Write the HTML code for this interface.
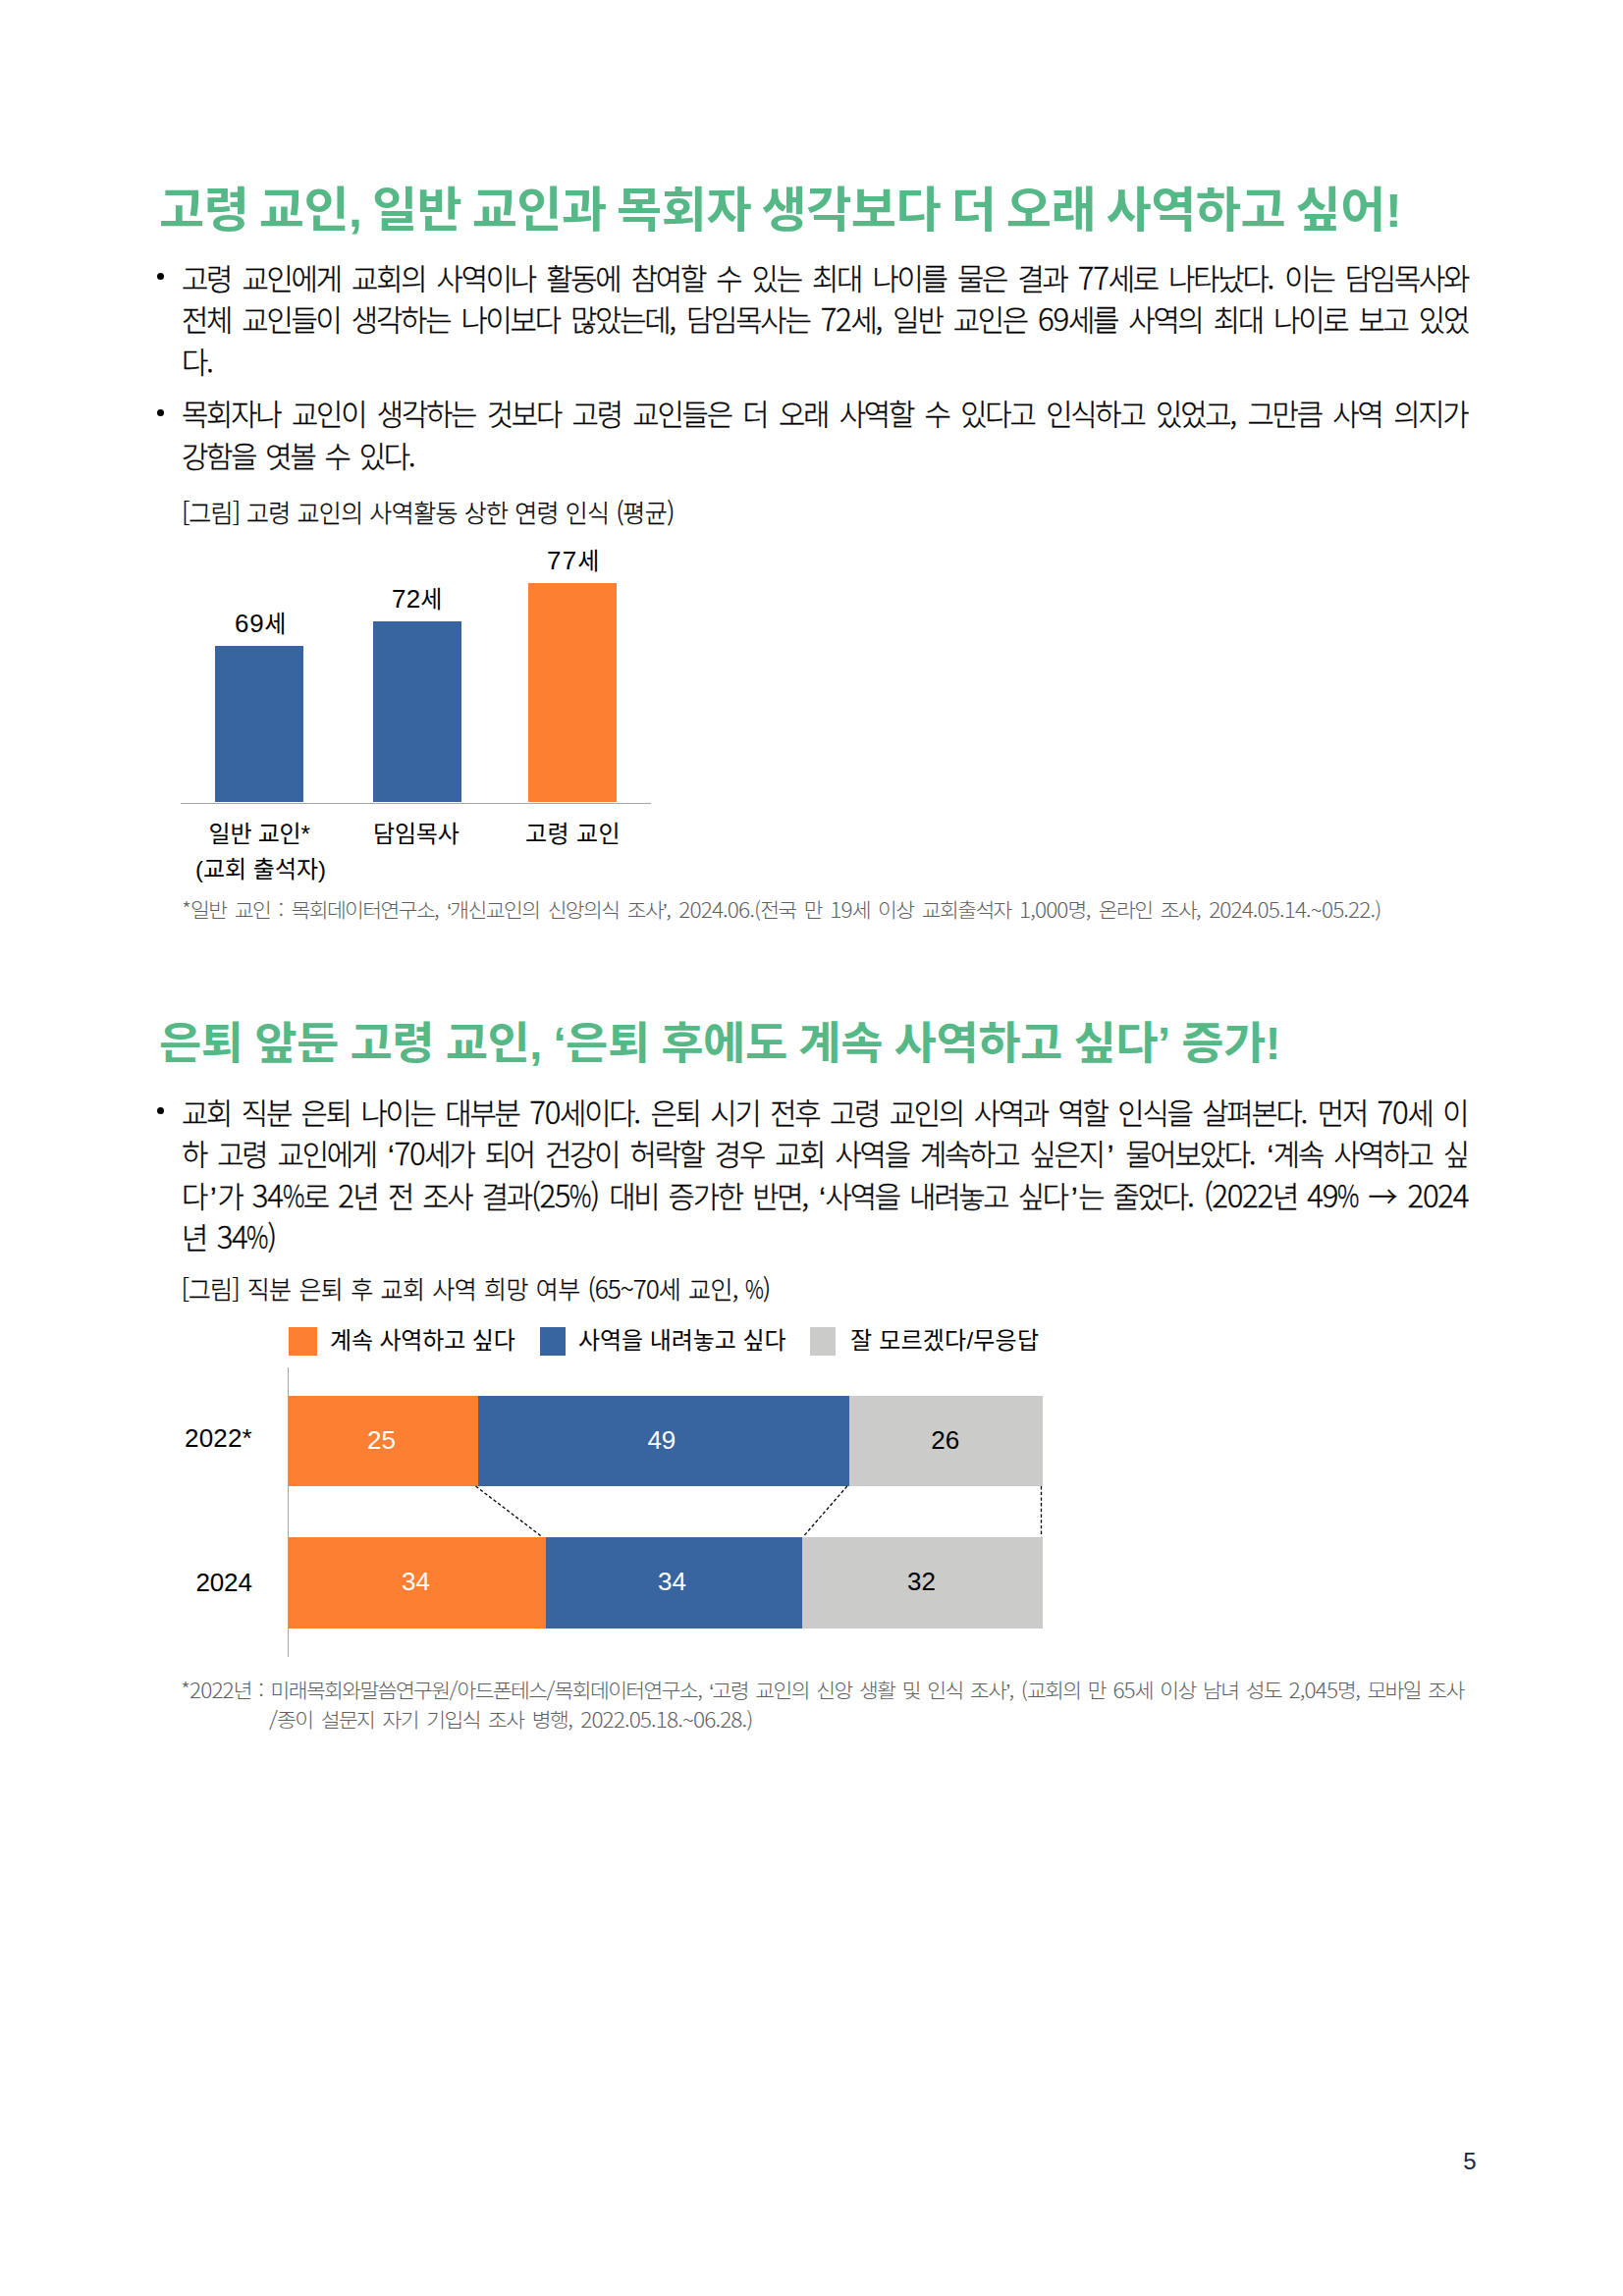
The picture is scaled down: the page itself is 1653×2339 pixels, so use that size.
<!DOCTYPE html><html lang="ko"><head><meta charset="utf-8"><title>고령 교인 사역 인식</title><style>
html,body{margin:0;padding:0;background:#fff}
#page{position:relative;width:1653px;height:2339px;overflow:hidden;background:#fff;font-family:"Liberation Sans","Noto Sans CJK KR",sans-serif}
.t{position:absolute;transform-origin:0 0;white-space:pre;line-height:1;margin:0;padding:0;font-kerning:none}
.r{position:absolute}
.n{font-family:"Noto Sans CJK KR",sans-serif;font-size:1.05em;letter-spacing:-.04em;line-height:0}
.m{font-size:1.08em;line-height:0}
.pc{display:inline-block;transform:scaleX(.8);transform-origin:0 50%;margin-right:-.18em;line-height:0}
.ar{font-family:"Noto Sans CJK KR",sans-serif;line-height:0;letter-spacing:0}
.q1{margin:0 2px 0 1px;line-height:0}.q2{margin:0 3px 0 4px;line-height:0}
.dot{position:absolute;width:7px;height:7px;border-radius:50%;background:#000}
svg{position:absolute;left:0;top:0}
</style></head><body><div id="page">
<div class="dot" style="left:160px;top:278.25px"></div>
<div class="dot" style="left:160px;top:417.00px"></div>
<div class="dot" style="left:160px;top:1128.25px"></div>
<div class="r" style="left:219.00px;top:658.00px;width:90.00px;height:158.75px;background:#3864a0"></div>
<div class="r" style="left:380.00px;top:633.00px;width:90.00px;height:183.75px;background:#3864a0"></div>
<div class="r" style="left:537.50px;top:594.00px;width:90.50px;height:222.75px;background:#fd7f32"></div>
<div class="r" style="left:184.00px;top:818.00px;width:478.60px;height:1.00px;background:#a6a6a6"></div>
<div class="r" style="left:293.75px;top:1352.00px;width:29.00px;height:28.75px;background:#fd7f32"></div>
<div class="r" style="left:550.00px;top:1352.00px;width:26.00px;height:28.75px;background:#3864a0"></div>
<div class="r" style="left:825.00px;top:1352.00px;width:26.00px;height:28.75px;background:#cbcbc9"></div>
<div class="r" style="left:293.00px;top:1393.00px;width:1.00px;height:294.50px;background:#a6a6a6"></div>
<div class="r" style="left:294.00px;top:1422.00px;width:192.75px;height:91.75px;background:#fd7f32"></div>
<div class="r" style="left:486.75px;top:1422.00px;width:377.75px;height:91.75px;background:#3864a0"></div>
<div class="r" style="left:864.50px;top:1422.00px;width:197.20px;height:91.75px;background:#cbcbc9"></div>
<div class="r" style="left:294.00px;top:1565.75px;width:261.75px;height:93.00px;background:#fd7f32"></div>
<div class="r" style="left:555.75px;top:1565.75px;width:261.35px;height:93.00px;background:#3864a0"></div>
<div class="r" style="left:817.10px;top:1565.75px;width:244.60px;height:93.00px;background:#cbcbc9"></div>
<svg width="1653" height="2339" viewBox="0 0 1653 2339"><g stroke="#000" stroke-width="1.3" stroke-dasharray="3.4 2.3" fill="none"><line x1="484.5" y1="1514" x2="552" y2="1565.5"/><line x1="862.8" y1="1514" x2="818" y2="1565.5"/><line x1="1060.5" y1="1514" x2="1060.5" y2="1565.5"/></g></svg>
<div class="t" id="h1" style="left:162.00px;top:190.40px;font-size:48.5px;font-weight:700;letter-spacing:-0.500px;word-spacing:-2.899px;color:#57b887;transform:scaleX(1.035)">고령 교인, 일반 교인과 목회자 생각보다 더 오래 사역하고 싶어!</div>
<div class="t" id="h2" style="left:162.00px;top:1041.00px;font-size:45.5px;font-weight:700;letter-spacing:-0.500px;word-spacing:-0.913px;color:#57b887;transform:scaleX(1.035)">은퇴 앞둔 고령 교인, ‘은퇴 후에도 계속 사역하고 싶다’ 증가!</div>
<div class="t" id="b1l1" style="left:185.00px;top:269.90px;font-size:29.7px;font-weight:300;letter-spacing:-2.220px;word-spacing:5.217px;color:#000;-webkit-text-stroke:.3px #000">고령 교인에게 교회의 사역이나 활동에 참여할 수 있는 최대 나이를 물은 결과 <span class="n">77</span>세로 나타났다<span class="n">.</span> 이는 담임목사와</div>
<div class="t" id="b1l2" style="left:185.00px;top:312.40px;font-size:29.7px;font-weight:300;letter-spacing:-2.220px;word-spacing:5.125px;color:#000;-webkit-text-stroke:.3px #000">전체 교인들이 생각하는 나이보다 많았는데<span class="n">,</span> 담임목사는 <span class="n">72</span>세<span class="n">,</span> 일반 교인은 <span class="n">69</span>세를 사역의 최대 나이로 보고 있었</div>
<div class="t" id="b1l3" style="left:185.00px;top:354.90px;font-size:29.7px;font-weight:300;letter-spacing:-2.220px;word-spacing:4.500px;color:#000;-webkit-text-stroke:.3px #000">다<span class="n">.</span></div>
<div class="t" id="b2l1" style="left:185.00px;top:408.30px;font-size:29.7px;font-weight:300;letter-spacing:-2.220px;word-spacing:5.550px;color:#000;-webkit-text-stroke:.3px #000">목회자나 교인이 생각하는 것보다 고령 교인들은 더 오래 사역할 수 있다고 인식하고 있었고<span class="n">,</span> 그만큼 사역 의지가</div>
<div class="t" id="b2l2" style="left:185.00px;top:450.80px;font-size:29.7px;font-weight:300;letter-spacing:-2.220px;word-spacing:4.000px;color:#000;-webkit-text-stroke:.3px #000">강함을 엿볼 수 있다<span class="n">.</span></div>
<div class="t" id="b3l1" style="left:185.00px;top:1119.70px;font-size:29.7px;font-weight:300;letter-spacing:-2.220px;word-spacing:4.588px;color:#000;-webkit-text-stroke:.3px #000">교회 직분 은퇴 나이는 대부분 <span class="n">70</span>세이다<span class="n">.</span> 은퇴 시기 전후 고령 교인의 사역과 역할 인식을 살펴본다<span class="n">.</span> 먼저 <span class="n">70</span>세 이</div>
<div class="t" id="b3l2" style="left:185.00px;top:1162.20px;font-size:29.7px;font-weight:300;letter-spacing:-2.220px;word-spacing:5.117px;color:#000;-webkit-text-stroke:.3px #000">하 고령 교인에게 <span class="q1">‘</span><span class="n">70</span>세가 되어 건강이 허락할 경우 교회 사역을 계속하고 싶은지<span class="q2">’</span> 물어보았다<span class="n">.</span> <span class="q1">‘</span>계속 사역하고 싶</div>
<div class="t" id="b3l3" style="left:185.00px;top:1204.70px;font-size:29.7px;font-weight:300;letter-spacing:-2.220px;word-spacing:4.219px;color:#000;-webkit-text-stroke:.3px #000">다<span class="q2">’</span>가 <span class="n">34<span class="pc">%</span></span>로 <span class="n">2</span>년 전 조사 결과<span class="n">(25<span class="pc">%</span>)</span> 대비 증가한 반면<span class="n">,</span> <span class="q1">‘</span>사역을 내려놓고 싶다<span class="q2">’</span>는 줄었다<span class="n">.</span> <span class="n">(2022</span>년 <span class="n">49<span class="pc">%</span></span> <span class="ar">→</span> <span class="n">2024</span></div>
<div class="t" id="b3l4" style="left:185.00px;top:1247.20px;font-size:29.7px;font-weight:300;letter-spacing:-2.220px;word-spacing:4.500px;color:#000;-webkit-text-stroke:.3px #000">년 <span class="n">34<span class="pc">%</span>)</span></div>
<div class="t" id="c1" style="left:185.00px;top:510.50px;font-size:25px;font-weight:300;letter-spacing:-0.600px;word-spacing:0.357px;color:#000;-webkit-text-stroke:.25px #000"><span class="n">[</span>그림<span class="n">]</span> 고령 교인의 사역활동 상한 연령 인식 <span class="n">(</span>평균<span class="n">)</span></div>
<div class="t" id="c2" style="left:184.50px;top:1302.25px;font-size:25px;font-weight:300;letter-spacing:-0.600px;word-spacing:1.600px;color:#000;-webkit-text-stroke:.25px #000"><span class="n">[</span>그림<span class="n">]</span> 직분 은퇴 후 교회 사역 희망 여부 <span class="n">(65~70</span>세 교인<span class="n">,</span> <span class="n"><span class="pc">%</span>)</span></div>
<div class="t" id="v69" style="left:239.00px;top:623.60px;font-size:24px;font-weight:400;letter-spacing:0.750px;word-spacing:0.000px;color:#000"><span class="m">69</span>세</div>
<div class="t" id="v72" style="left:399.00px;top:598.60px;font-size:24px;font-weight:400;letter-spacing:0.250px;word-spacing:0.000px;color:#000"><span class="m">72</span>세</div>
<div class="t" id="v77" style="left:557.00px;top:559.60px;font-size:24px;font-weight:400;letter-spacing:1.250px;word-spacing:0.000px;color:#000"><span class="m">77</span>세</div>
<div class="t" id="x1a" style="left:212.50px;top:838.00px;font-size:24px;font-weight:400;letter-spacing:-0.200px;word-spacing:0.000px;color:#000">일반 교인*</div>
<div class="t" id="x1b" style="left:199.00px;top:873.80px;font-size:24px;font-weight:400;letter-spacing:0.000px;word-spacing:0.000px;color:#000">(교회 출석자)</div>
<div class="t" id="x2" style="left:380.00px;top:838.00px;font-size:24px;font-weight:400;letter-spacing:-0.167px;word-spacing:0.000px;color:#000">담임목사</div>
<div class="t" id="x3" style="left:535.00px;top:838.00px;font-size:24px;font-weight:400;letter-spacing:0.375px;word-spacing:0.000px;color:#000">고령 교인</div>
<div class="t" id="f1" style="left:184.50px;top:917.50px;font-size:20px;font-weight:300;letter-spacing:-1.470px;word-spacing:3.612px;color:#5e5e5e;transform:scaleX(1.075)"><span class="n">*</span>일반 교인 <span class="n">:</span> 목회데이터연구소<span class="n">,</span> ‘개신교인의 신앙의식 조사’<span class="n">,</span> <span class="n">2024.06.(</span>전국 만 <span class="n">19</span>세 이상 교회출석자 <span class="n">1,000</span>명<span class="n">,</span> 온라인 조사<span class="n">,</span> <span class="n">2024.05.14.~05.22.)</span></div>
<div class="t" id="f2a" style="left:184.25px;top:1712.50px;font-size:20px;font-weight:300;letter-spacing:-1.470px;word-spacing:2.752px;color:#5e5e5e;transform:scaleX(1.075)"><span class="n">*2022</span>년 <span class="n">:</span> 미래목회와말씀연구원<span class="n">/</span>아드폰테스<span class="n">/</span>목회데이터연구소<span class="n">,</span> ‘고령 교인의 신앙 생활 및 인식 조사’<span class="n">,</span> <span class="n">(</span>교회의 만 <span class="n">65</span>세 이상 남녀 성도 <span class="n">2,045</span>명<span class="n">,</span> 모바일 조사</div>
<div class="t" id="f2b" style="left:274.00px;top:1742.70px;font-size:20px;font-weight:300;letter-spacing:-1.470px;word-spacing:3.605px;color:#5e5e5e;transform:scaleX(1.075)"><span class="n">/</span>종이 설문지 자기 기입식 조사 병행<span class="n">,</span> <span class="n">2022.05.18.~06.28.)</span></div>
<div class="t" id="lg1" style="left:336.00px;top:1354.10px;font-size:24px;font-weight:400;letter-spacing:-0.139px;word-spacing:0.000px;color:#000">계속 사역하고 싶다</div>
<div class="t" id="lg2" style="left:589.00px;top:1354.10px;font-size:24px;font-weight:400;letter-spacing:-0.050px;word-spacing:0.000px;color:#000">사역을 내려놓고 싶다</div>
<div class="t" id="lg3" style="left:866.00px;top:1354.10px;font-size:24px;font-weight:400;letter-spacing:0.222px;word-spacing:0.000px;color:#000">잘 모르겠다/무응답</div>
<div class="t" id="y22" style="left:188.00px;top:1452.20px;font-size:26px;font-weight:400;letter-spacing:0.188px;word-spacing:0.000px;color:#000">2022*</div>
<div class="t" id="y24" style="left:199.50px;top:1599.40px;font-size:26px;font-weight:400;letter-spacing:-0.167px;word-spacing:0.000px;color:#000">2024</div>
<div class="t" id="n25" style="left:374.00px;top:1454.20px;font-size:26px;font-weight:400;letter-spacing:0.000px;word-spacing:0.000px;color:#fff">25</div>
<div class="t" id="n49" style="left:659.40px;top:1454.20px;font-size:26px;font-weight:400;letter-spacing:0.000px;word-spacing:0.000px;color:#fff">49</div>
<div class="t" id="n26" style="left:948.20px;top:1454.20px;font-size:26px;font-weight:400;letter-spacing:0.000px;word-spacing:0.000px;color:#000">26</div>
<div class="t" id="n34a" style="left:409.00px;top:1598.20px;font-size:26px;font-weight:400;letter-spacing:0.000px;word-spacing:0.000px;color:#fff">34</div>
<div class="t" id="n34b" style="left:670.00px;top:1598.20px;font-size:26px;font-weight:400;letter-spacing:0.000px;word-spacing:0.000px;color:#fff">34</div>
<div class="t" id="n32" style="left:924.00px;top:1598.20px;font-size:26px;font-weight:400;letter-spacing:0.000px;word-spacing:0.000px;color:#000">32</div>
<div class="t" id="pg" style="left:1490.20px;top:2189.60px;font-size:24px;font-weight:400;letter-spacing:0.000px;word-spacing:0.000px;color:#1a2744">5</div>
</div></body></html>
